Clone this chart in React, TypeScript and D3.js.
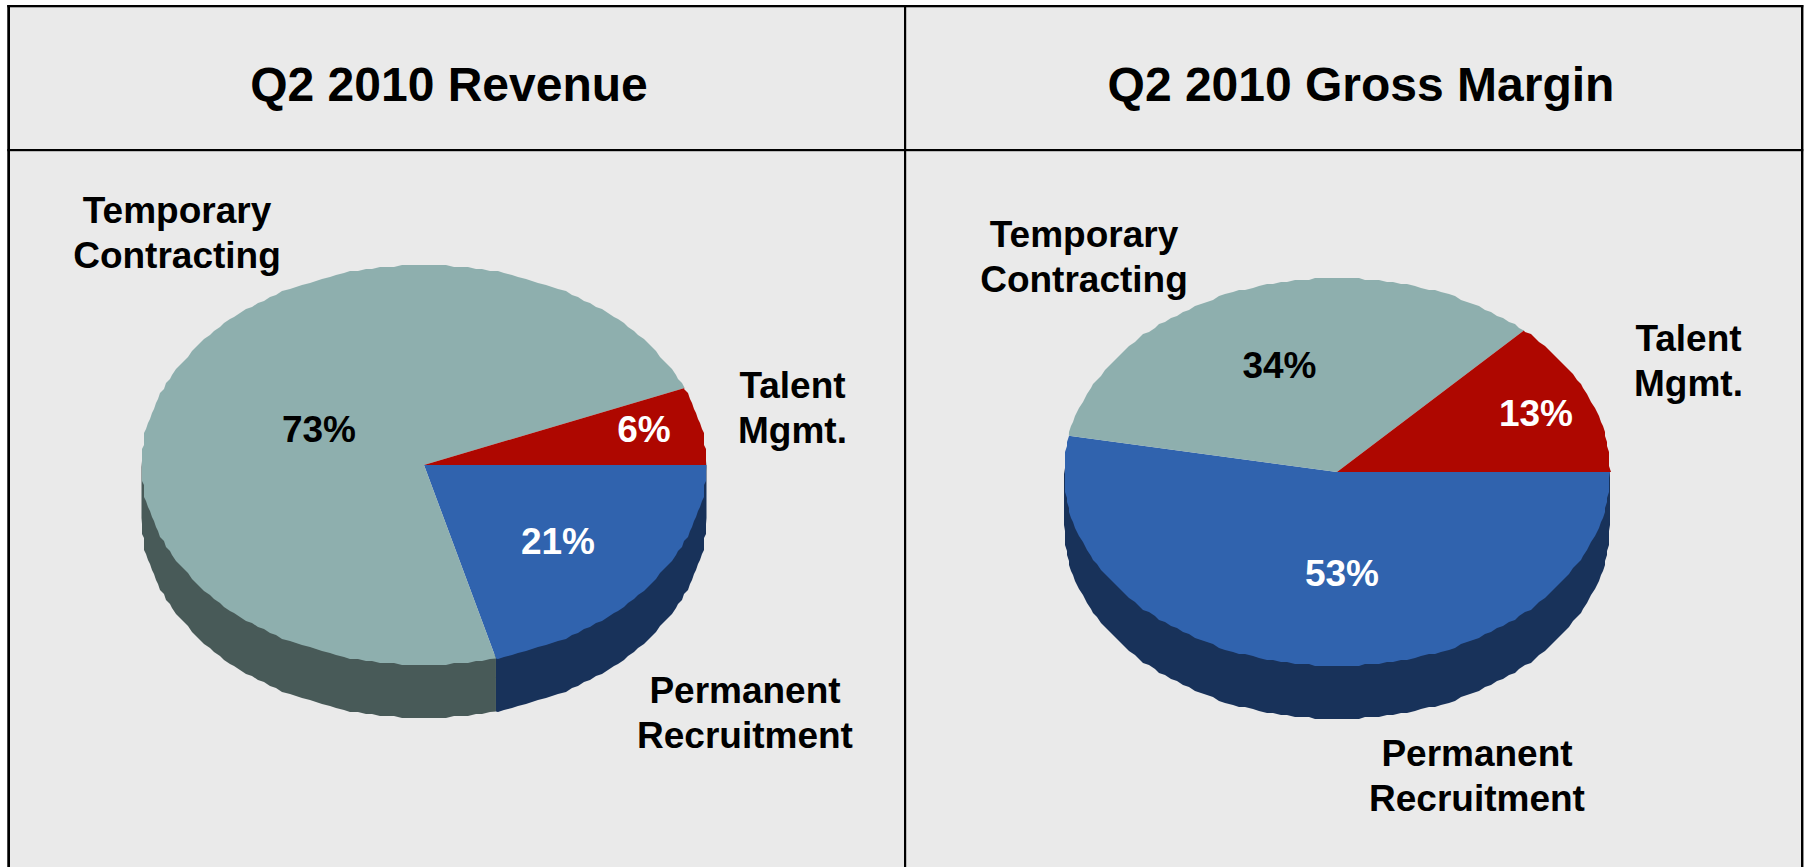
import React from "react";
import * as d3 from "d3";

const segments = ["Permanent Recruitment", "Temporary Contracting", "Talent Mgmt."];
const revenueShares = [20.9, 72.8, 6.3];
const marginShares = [53, 34, 13];
const topColors = ["#3063AE", "#8EAFAE", "#AE0700"];
const sideColors = ["#18325A", "#485A58", "#5A0400"];
const titles = ["Q2 2010 Revenue", "Q2 2010 Gross Margin"];

const FONT = "'Liberation Sans', Arial, sans-serif";
const STEP = (1.5 * Math.PI) / 180;
const GRID = 2;

const pieGen = d3
  .pie<number>()
  .sort(null)
  .startAngle(Math.PI / 2)
  .endAngle(Math.PI / 2 + 2 * Math.PI);

const pct = (v: number) => `${Math.round(v)}%`;
const snap = (v: number) => Math.round(v / GRID) * GRID;

// Angles along an arc: coarse samples, to keep the stepped outline of the reference.
function samples(a0: number, a1: number) {
  const inner = d3.range(Math.ceil(a0 / STEP), Math.floor(a1 / STEP) + 1).map((k) => k * STEP);
  return [a0, ...inner.filter((a) => a > a0 && a < a1), a1];
}

function Pie3D({ values, cx, cy, rx, ry, depth }: { values: number[]; cx: number; cy: number; rx: number; ry: number; depth: number }) {
  const arcs = pieGen(values);
  const xs = d3.scaleLinear().domain([-1, 1]).range([-rx, rx]);
  const ys = d3.scaleLinear().domain([-1, 1]).range([-ry, ry]);
  const ptX = (a: number, a0: number, a1: number) => (a === a0 || a === a1 ? xs(Math.sin(a)) : snap(xs(Math.sin(a))));
  const ptY = (a: number, a0: number, a1: number) => (a === a0 || a === a1 ? ys(-Math.cos(a)) : snap(ys(-Math.cos(a))));
  return (
    <g transform={`translate(${cx},${cy})`}>
      {arcs.map((d, i) => {
        const a0 = Math.max(d.startAngle, Math.PI / 2);
        const a1 = Math.min(d.endAngle, (3 * Math.PI) / 2);
        if (a1 <= a0) return null;
        const wall = d3
          .area<number>()
          .x((a) => ptX(a, a0, a1))
          .y0((a) => ptY(a, a0, a1) - 4)
          .y1((a) => ptY(a, a0, a1) + depth);
        return <path key={i} d={wall(samples(a0, a1)) || ""} fill={sideColors[i]} />;
      })}
      {arcs.map((d, i) => {
        const outline = d3.line<number>()
          .x((a) => ptX(a, d.startAngle, d.endAngle))
          .y((a) => ptY(a, d.startAngle, d.endAngle))(samples(d.startAngle, d.endAngle));
        return <path key={i} d={`M0,0L${(outline || "").slice(1)}Z`} fill={topColors[i]} />;
      })}
    </g>
  );
}

function Label({ x, y, lines, fill = "#000", size = 37 }: { x: number; y: number; lines: string[]; fill?: string; size?: number }) {
  return (
    <text textAnchor="middle" fontFamily={FONT} fontWeight="bold" fontSize={size} fill={fill}>
      {lines.map((l, i) => (
        <tspan key={i} x={x} y={y + i * 45}>
          {l}
        </tspan>
      ))}
    </text>
  );
}

export default function App() {
  return (
    <svg width={1806} height={867} style={{ position: "absolute", left: 0, top: 0, display: "block" }}>
      <rect width={1806} height={867} fill="#FFFFFF" />
      <rect x={7} y={5} width={1796.5} height={862} fill="#EAEAEA" />
      <g fill="#000">
        <rect x={7.3} y={5} width={2.7} height={862} />
        <rect x={904} y={5} width={2.2} height={862} />
        <rect x={1801} y={5} width={2.4} height={862} />
        <rect x={7.3} y={5} width={1796} height={2.3} />
        <rect x={7.3} y={149} width={1796} height={2.2} />
      </g>
      <Label x={449} y={101} lines={[titles[0]]} size={48} />
      <Label x={1361} y={101} lines={[titles[1]]} size={48} />

      <Pie3D values={revenueShares} cx={424} cy={465} rx={282.5} ry={200} depth={53} />
      <Label x={177} y={223} lines={["Temporary", "Contracting"]} />
      <Label x={792.5} y={398} lines={["Talent", "Mgmt."]} />
      <Label x={745} y={703} lines={["Permanent", "Recruitment"]} />
      <Label x={319} y={442} lines={[pct(revenueShares[1])]} />
      <Label x={644} y={442} lines={[pct(revenueShares[2])]} fill="#fff" />
      <Label x={558} y={554} lines={[pct(revenueShares[0])]} fill="#fff" />

      <Pie3D values={marginShares} cx={1337} cy={472} rx={273} ry={194} depth={53} />
      <Label x={1084} y={247} lines={["Temporary", "Contracting"]} />
      <Label x={1688.5} y={351} lines={["Talent", "Mgmt."]} />
      <Label x={1477} y={766} lines={["Permanent", "Recruitment"]} />
      <Label x={1279.5} y={378} lines={[pct(marginShares[1])]} />
      <Label x={1536} y={426} lines={[pct(marginShares[2])]} fill="#fff" />
      <Label x={1342} y={586} lines={[pct(marginShares[0])]} fill="#fff" />
    </svg>
  );
}
